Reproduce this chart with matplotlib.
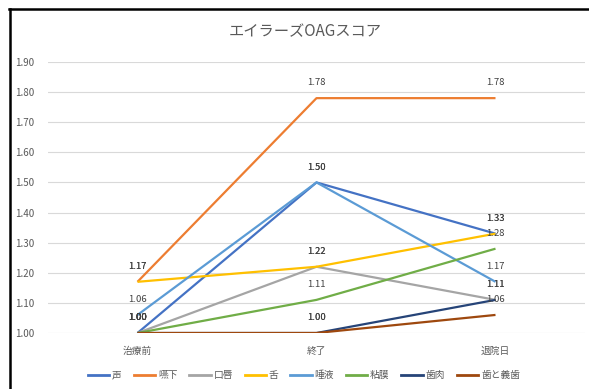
import matplotlib
matplotlib.use("Agg")
import matplotlib.pyplot as plt
from matplotlib.lines import Line2D

plt.rcParams['font.family'] = ['Noto Sans CJK JP', 'DejaVu Sans']

categories = ['治療前', '終了', '退院日']
series_names = ['声', '嚥下', '口唇', '舌', '唾液', '粘膜', '歯肉', '歯と義歯']
v_koe = [1.00, 1.50, 1.33]
v_enge = [1.17, 1.78, 1.78]
v_koushin = [1.00, 1.22, 1.11]
v_shita = [1.17, 1.22, 1.33]
v_daeki = [1.06, 1.50, 1.17]
v_nenmaku = [1.00, 1.11, 1.28]
v_shiniku = [1.00, 1.00, 1.11]
v_gishi = [1.00, 1.00, 1.06]
series_values = [v_koe, v_enge, v_koushin, v_shita, v_daeki, v_nenmaku, v_shiniku, v_gishi]
colors = ['#4472C4', '#ED7D31', '#A5A5A5', '#FFC000', '#5B9BD5', '#70AD47', '#264478', '#9E480E']
yticks = [1.00, 1.10, 1.20, 1.30, 1.40, 1.50, 1.60, 1.70, 1.80, 1.90]

W, H = 589, 389
fig = plt.figure(figsize=(W / 100, H / 100), dpi=100)
ax = fig.add_axes([48 / W, 1 - 333 / H, (585 - 48) / W, (333 - 62) / H])

x = list(range(len(categories)))
for name, vals, c in zip(series_names, series_values, colors):
    ax.plot(x, vals, color=c, lw=1.6, label=name, solid_capstyle='butt')
    for xi, v in zip(x, vals):
        ax.annotate(f'{v:.2f}', (xi, v), xytext=(0, 11), textcoords='offset points',
                    ha='center', va='center', fontsize=6.8, color='#404040')

ax.set_xlim(-0.5, 2.5)
ax.set_ylim(1.0, 1.9)
ax.set_yticks(yticks)
ax.set_yticklabels([f'{t:.2f}' for t in yticks])
ax.set_xticks(x)
ax.set_xticklabels(categories)
ax.grid(axis='y', color='#D9D9D9', lw=0.8)
ax.set_axisbelow(True)
for s in ax.spines.values():
    s.set_visible(False)
ax.tick_params(axis='both', length=0, colors='#595959', labelsize=7)
ax.tick_params(axis='x', pad=9)
ax.tick_params(axis='y', pad=10)

fig.text(305 / W, 1 - 32 / H, 'エイラーズOAGスコア', ha='center', va='center',
         fontsize=11, color='#595959')

handles = [Line2D([0], [0], color=c, lw=2) for c in colors]
fig.legend(handles, series_names, loc='center', bbox_to_anchor=(304 / W, 1 - 375 / H),
           ncol=8, frameon=False, fontsize=7, handlelength=2.2, handletextpad=0.3,
           columnspacing=1.2, labelcolor='#595959')

# outer border (top and left)
fig.add_artist(Line2D([9 / W, 1], [1 - 9 / H, 1 - 9 / H], color='black', lw=1.8,
                      transform=fig.transFigure))
fig.add_artist(Line2D([10 / W, 10 / W], [0, 1 - 9 / H], color='black', lw=1.8,
                      transform=fig.transFigure))

fig.savefig('out.png', dpi=100)
